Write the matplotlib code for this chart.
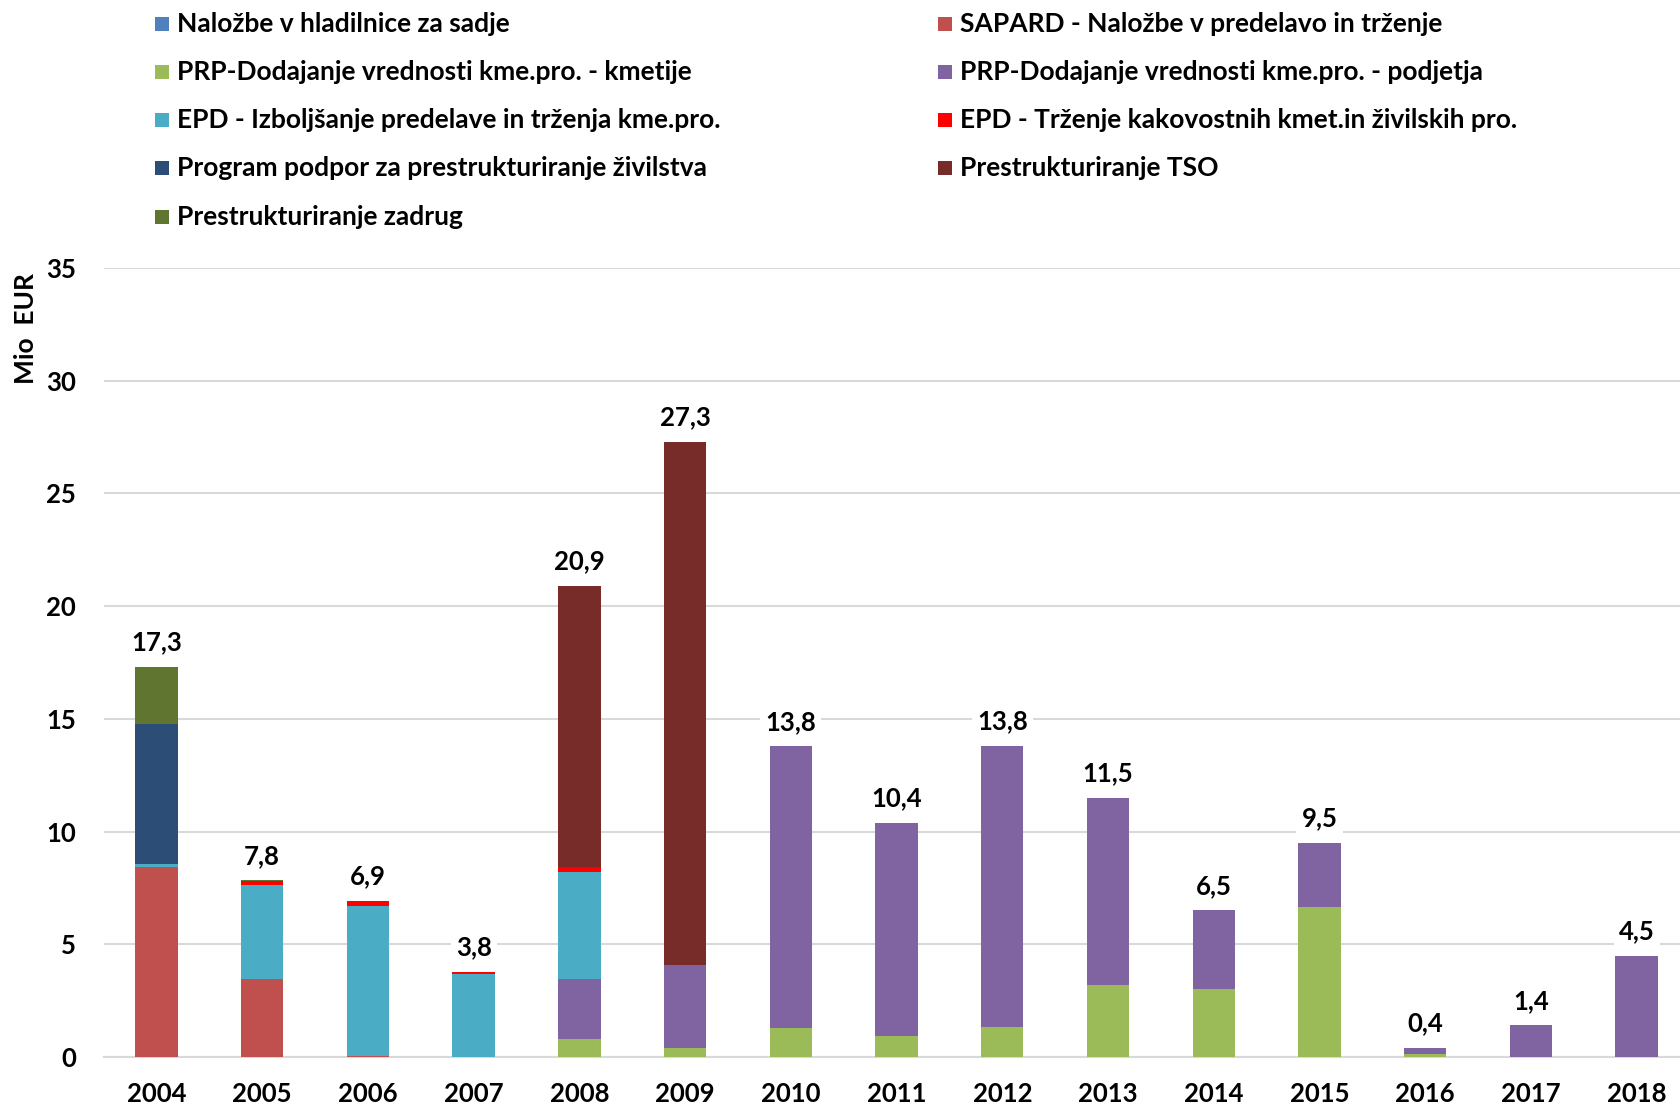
import matplotlib
matplotlib.use("Agg")
import matplotlib.pyplot as plt
import matplotlib.patches as mpatches
import numpy as np

years = ["2004", "2005", "2006", "2007", "2008", "2009", "2010", "2011",
         "2012", "2013", "2014", "2015", "2016", "2017", "2018"]

# Mio EUR per measure, stacked bottom -> top in this order
hladilnice = [0, 0, 0, 0, 0, 0, 0, 0, 0, 0, 0, 0, 0, 0, 0]
sapard = [8.44, 3.47, 0.06, 0, 0, 0, 0, 0, 0, 0, 0, 0, 0, 0, 0]
prp_kmetije = [0, 0, 0, 0, 0.80, 0.38, 1.30, 0.92, 1.34, 3.20, 3.01, 6.65, 0.15, 0, 0]
prp_podjetja = [0, 0, 0, 0, 2.67, 3.69, 12.48, 9.48, 12.46, 8.30, 3.49, 2.85, 0.25, 1.40, 4.50]
epd_izboljsanje = [0.11, 4.16, 6.66, 3.69, 4.75, 0, 0, 0, 0, 0, 0, 0, 0, 0, 0]
epd_trzenje = [0, 0.17, 0.20, 0.10, 0.19, 0, 0, 0, 0, 0, 0, 0, 0, 0, 0]
program_podpor = [6.24, 0, 0, 0, 0, 0, 0, 0, 0, 0, 0, 0, 0, 0, 0]
prestr_tso = [0, 0, 0, 0, 12.49, 23.23, 0, 0, 0, 0, 0, 0, 0, 0, 0]
prestr_zadrug = [2.51, 0.04, 0, 0, 0, 0, 0, 0, 0, 0, 0, 0, 0, 0, 0]

labels = [
    "Naložbe v hladilnice za sadje",
    "SAPARD - Naložbe v predelavo in trženje",
    "PRP-Dodajanje vrednosti kme.pro. - kmetije",
    "PRP-Dodajanje vrednosti kme.pro. - podjetja",
    "EPD - Izboljšanje predelave in trženja kme.pro.",
    "EPD - Trženje kakovostnih kmet.in živilskih pro.",
    "Program podpor za prestrukturiranje živilstva",
    "Prestrukturiranje TSO",
    "Prestrukturiranje zadrug",
]
colors = ["#4F81BD", "#C0504D", "#9BBB59", "#8064A2", "#4BACC6",
          "#FF0000", "#2C4D75", "#772C2A", "#5F7530"]
series = [hladilnice, sapard, prp_kmetije, prp_podjetja, epd_izboljsanje,
          epd_trzenje, program_podpor, prestr_tso, prestr_zadrug]

plt.rcParams["font.family"] = ["Lato", "DejaVu Sans"]

W, H = 1681, 1105
fig = plt.figure(figsize=(W / 100, H / 100), dpi=100)
ax = fig.add_axes([103.6 / W, 1 - 1057 / H, (W - 103.6) / W, (1057 - 268) / H])

x = np.arange(len(years))
bottom = np.zeros(len(years))
for vals, col, lab in zip(series, colors, labels):
    vals = np.array(vals, dtype=float)
    ax.bar(x, vals, width=0.40, bottom=bottom, color=col, label=lab,
           edgecolor="none", zorder=3)
    bottom += vals

# totals above bars
for xi, tot in zip(x, bottom):
    ax.annotate(f"{tot:.1f}".replace(".", ","), (xi, tot), xytext=(0, 9),
                textcoords="offset points", ha="center", va="bottom",
                fontsize=18.5, fontweight="bold", color="black", zorder=4,
                bbox=dict(boxstyle="square,pad=0.2", fc="white", ec="none"))

ax.set_xlim(-0.5, 14.42)
ax.set_ylim(0, 35)
ax.set_yticks(range(0, 36, 5))
ax.set_xticks(x)
ax.set_xticklabels(years)
ax.tick_params(axis="both", length=0, labelsize=18.5)
ax.tick_params(axis="x", pad=18)
ax.tick_params(axis="y", pad=20)
for lbl in ax.get_xticklabels() + ax.get_yticklabels():
    lbl.set_fontweight("bold")
ax.grid(axis="y", color="#D9D9D9", linewidth=1.5, zorder=0)
ax.set_axisbelow(True)
for side in ["top", "right", "left"]:
    ax.spines[side].set_visible(False)
ax.spines["bottom"].set_color("#D9D9D9")
ax.spines["bottom"].set_linewidth(1.5)

fig.text(25.7 / W, 1 - 329 / H, "Mio  EUR", rotation=90, ha="center", va="center",
         fontsize=19, fontweight="bold")

# legend, two columns filled row by row
col_x = [162, 945]
row_y = [23.5, 71.8, 120, 168.4, 216.7]
sq = 14
for i, (lab, col) in enumerate(zip(labels, colors)):
    cx = col_x[i % 2]
    cy = row_y[i // 2]
    fig.add_artist(mpatches.Rectangle(((cx - sq / 2) / W, 1 - (cy + sq / 2) / H),
                                      sq / W, sq / H, transform=fig.transFigure,
                                      facecolor=col, edgecolor="none"))
    fig.text((cx + 15) / W, 1 - cy / H, lab, ha="left", va="center",
             fontsize=19, fontweight="bold")

fig.savefig("out.png", dpi=100)
